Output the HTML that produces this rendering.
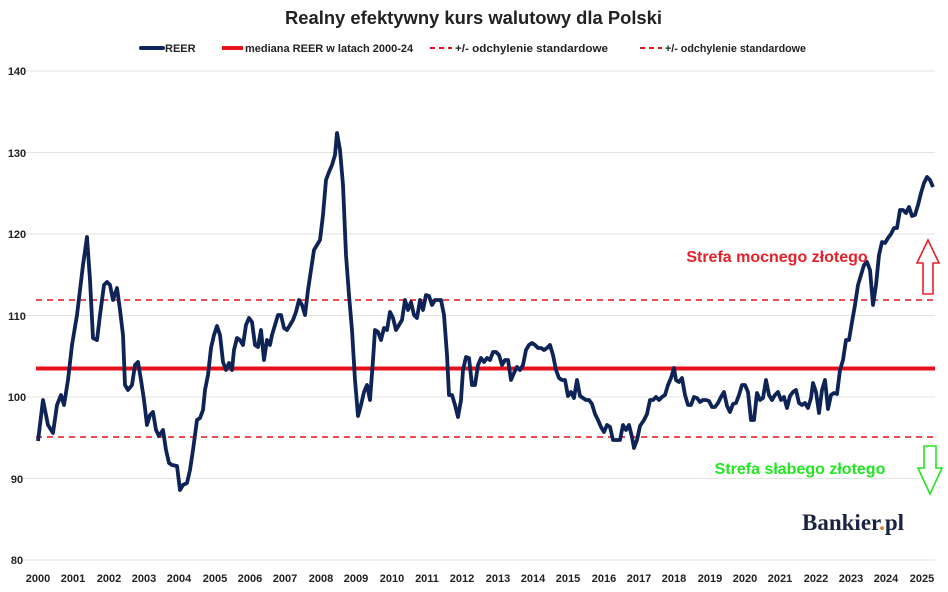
<!DOCTYPE html>
<html><head><meta charset="utf-8"><style>
body{margin:0;background:#fff;}
svg{display:block;font-family:"Liberation Sans",sans-serif;}
</style></head><body>
<svg width="948" height="592" viewBox="0 0 948 592" xmlns="http://www.w3.org/2000/svg">
<rect width="948" height="592" fill="#fff"/>
<text x="285" y="24" textLength="377" lengthAdjust="spacingAndGlyphs" font-size="18" font-weight="bold" fill="#222">Realny efektywny kurs walutowy dla Polski</text>
<g font-size="11" fill="#222" font-weight="bold">
<line x1="141" y1="48" x2="163" y2="48" stroke="#0e2356" stroke-width="4" stroke-linecap="round"/><text x="165" y="52">REER</text>
<line x1="222" y1="48" x2="243" y2="48" stroke="#e8101a" stroke-width="4"/><text x="245" y="52">mediana REER w latach 2000-24</text>
<line x1="430" y1="48" x2="452" y2="48" stroke="#e8101a" stroke-width="2" stroke-dasharray="5,4"/><text x="455" y="52" textLength="153" lengthAdjust="spacingAndGlyphs">+/-  odchylenie standardowe</text>
<line x1="640" y1="48" x2="662" y2="48" stroke="#e8101a" stroke-width="2" stroke-dasharray="5,4"/><text x="665" y="52" textLength="141" lengthAdjust="spacingAndGlyphs">+/-  odchylenie standardowe</text>
</g>
<g stroke="#e3e3e3" stroke-width="1">
<line x1="20" y1="71" x2="935" y2="71"/><line x1="20" y1="152.5" x2="935" y2="152.5"/><line x1="20" y1="234" x2="935" y2="234"/><line x1="20" y1="315.5" x2="935" y2="315.5"/><line x1="20" y1="397" x2="935" y2="397"/><line x1="20" y1="478.5" x2="935" y2="478.5"/><line x1="20" y1="560" x2="935" y2="560"/>
</g>
<g font-size="11" font-weight="bold" fill="#222" text-anchor="middle">
<text x="17" y="75">140</text><text x="17" y="157">130</text><text x="17" y="238">120</text><text x="17" y="320">110</text><text x="17" y="401">100</text><text x="17" y="483">90</text><text x="17" y="564">80</text>
<text x="38" y="582">2000</text><text x="73" y="582">2001</text><text x="109" y="582">2002</text><text x="144" y="582">2003</text><text x="179" y="582">2004</text><text x="215" y="582">2005</text><text x="250" y="582">2006</text><text x="285" y="582">2007</text><text x="321" y="582">2008</text><text x="356" y="582">2009</text><text x="392" y="582">2010</text><text x="427" y="582">2011</text><text x="462" y="582">2012</text><text x="498" y="582">2013</text><text x="533" y="582">2014</text><text x="568" y="582">2015</text><text x="604" y="582">2016</text><text x="639" y="582">2017</text><text x="674" y="582">2018</text><text x="710" y="582">2019</text><text x="745" y="582">2020</text><text x="780" y="582">2021</text><text x="816" y="582">2022</text><text x="851" y="582">2023</text><text x="886" y="582">2024</text><text x="922" y="582">2025</text>
</g>
<line x1="36" y1="300" x2="935" y2="300" stroke="#e8101a" stroke-width="1.6" stroke-dasharray="6,5"/>
<line x1="36" y1="437" x2="935" y2="437" stroke="#e8101a" stroke-width="1.6" stroke-dasharray="6,5"/>
<line x1="36" y1="368.5" x2="935" y2="368.5" stroke="#e8101a" stroke-width="4"/>
<polyline fill="none" stroke="#0e2356" stroke-width="3.8" stroke-linejoin="round" points="38,441 43,400 48,425 53,433 57,405 61,395 64,405 68,380 72,345 77,315 83,265 87,237 90,280 93,338 97,340 100,315 104,285 107,282 110,285 113,300 117,288 120,310 123,335 125,385 128,390 132,385 135,365 138,362 141,380 144,400 147,425 150,415 153,412 156,430 159,436 163,430 166,450 169,463 172,465 177,466 180,490 183,485 187,483 190,470 193,450 197,420 200,418 203,410 205,390 208,375 211,348 214,335 217,326 220,335 223,362 226,370 229,363 232,370 234,350 237,338 240,340 243,345 246,325 249,318 252,322 255,345 258,347 261,330 264,360 267,340 270,345 272,335 275,325 278,315 281,315 284,328 287,330 290,325 293,320 296,312 299,300 302,305 305,315 308,290 311,270 314,250 317,245 320,240 323,215 326,180 329,172 332,165 335,155 337,133 340,150 343,185 346,255 349,295 352,330 355,380 358,416 361,405 364,392 367,385 370,400 373,360 375,330 378,332 381,340 384,328 387,330 390,312 393,318 396,330 399,325 402,320 405,300 408,310 411,302 414,315 417,318 420,300 423,310 426,295 429,296 432,305 435,300 438,300 441,300 444,315 447,355 449,395 452,395 455,405 458,417 461,400 463,370 466,357 469,358 472,385 475,385 478,365 481,358 484,362 487,358 490,360 493,352 496,352 499,355 502,365 505,360 508,360 511,380 514,373 517,367 520,370 523,365 526,350 529,345 532,343 535,345 538,348 541,348 544,350 547,348 550,345 553,355 556,370 559,378 562,380 565,380 568,396 571,392 574,398 577,380 580,396 583,398 586,400 589,400 592,404 595,414 598,420 601,427 604,432 607,425 610,427 613,440 617,440 620,440 623,425 626,430 629,425 632,437 634,448 637,440 640,426 644,420 647,414 650,400 653,400 656,397 659,400 662,397 665,395 668,385 671,378 674,368 676,380 679,382 682,378 685,395 688,405 691,405 694,397 697,398 700,402 703,400 706,400 709,401 712,407 715,407 718,403 721,397 724,392 727,406 730,412 733,404 736,403 739,395 742,385 745,385 748,392 751,420 754,420 757,393 760,400 763,398 766,380 769,395 772,400 775,395 778,392 781,400 784,397 787,408 790,396 793,392 796,390 799,403 802,405 805,403 808,408 811,398 813,383 816,392 819,413 822,390 825,380 828,409 831,395 834,393 837,394 840,370 843,360 846,340 849,340 852,322 855,305 858,285 861,275 864,265 867,262 870,270 873,305 876,285 879,255 882,242 885,243 888,238 891,234 894,228 897,228 900,210 903,210 906,213 909,207 912,216 915,215 918,205 921,193 924,183 927,177 930,180 933,187"/>
<text x="777" y="262" text-anchor="middle" font-size="16" font-weight="bold" fill="#e8202a">Strefa mocnego złotego</text>
<text x="800" y="474" text-anchor="middle" font-size="16" font-weight="bold" fill="#22e622">Strefa słabego złotego</text>
<polygon points="928,240 939,263 933,263 933,294 923,294 923,263 917,263" fill="#fff" stroke="#e8202a" stroke-width="1.6"/>
<polygon points="930,494 918,468 924,468 924,446 936,446 936,468 942,468" fill="#fff" stroke="#22e622" stroke-width="1.6"/>
<text x="802" y="530" font-size="23" font-weight="bold" fill="#1a2440" font-family="Liberation Serif, serif">Bankier<tspan fill="#e07a20">.</tspan>pl</text>
</svg>
</body></html>
